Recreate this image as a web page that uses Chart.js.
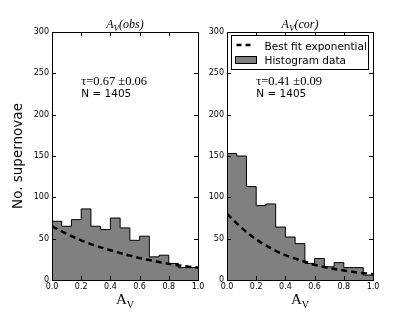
<!DOCTYPE html>
<html>
<head>
<meta charset="utf-8">
<script src="https://cdn.jsdelivr.net/npm/chart.js@4.4.1/dist/chart.umd.min.js"></script>
<style>
    html, body { margin: 0; padding: 0; background: #fff; }
    #wrap { position: relative; width: 415px; height: 312px; }
    canvas { position: absolute; left: 0; top: 0; }
</style>
</head>
<body>
<div id="wrap">
    <canvas id="obsChart" width="415" height="312"></canvas>
    <canvas id="corChart" width="415" height="312"></canvas>
</div>
<script>
// Histogram counts, 15 bins over A_V = 0..1
const obsCounts = [71, 65, 73, 86, 65, 61, 75, 63, 48, 53, 28, 30, 20, 15, 15];
const corCounts = [153, 150, 113, 90, 92, 64, 52, 44, 20, 26, 16, 21, 15, 15, 6];

// Best fit exponential
const fitX = [0, 0.1, 0.2, 0.3, 0.4, 0.5, 0.6, 0.7, 0.8, 0.9, 1.0];
const obsFit = [65, 56, 48, 41.5, 36, 31, 26.5, 23, 19.5, 17, 15];
const corFit = [80, 63, 49, 38.5, 30, 24, 18.5, 14.5, 11.5, 9, 7];

const xTicks = [0, 0.2, 0.4, 0.6, 0.8, 1.0];
const yTicks = [0, 50, 100, 150, 200, 250, 300];

const binEdges = Array.from({ length: 16 }, (_, i) => i / 15);

const HIST_GREY = '#808080';

// frame, inside ticks, titles and notes (matplotlib look)
const panelFrame = {
    id: 'panelFrame',
    afterDraw(chart, args, opts) {
        const { ctx, chartArea: a, scales: { x, y } } = chart;
        ctx.save();
        ctx.strokeStyle = '#000';
        ctx.lineWidth = 1;

        // inside tick marks on all four sides
        ctx.beginPath();
        x.ticks.forEach(t => {
            const px = Math.round(x.getPixelForValue(t.value)) + 0.5;
            ctx.moveTo(px, a.bottom); ctx.lineTo(px, a.bottom - 4);
            ctx.moveTo(px, a.top); ctx.lineTo(px, a.top + 4);
        });
        y.ticks.forEach(t => {
            const py = Math.round(y.getPixelForValue(t.value)) + 0.5;
            ctx.moveTo(a.left, py); ctx.lineTo(a.left + 4, py);
            ctx.moveTo(a.right, py); ctx.lineTo(a.right - 4, py);
        });
        ctx.stroke();
        ctx.strokeRect(Math.round(a.left) + 0.5, Math.round(a.top) + 0.5,
            Math.round(a.right - a.left), Math.round(a.bottom - a.top));

        const cx = (a.left + a.right) / 2;
        ctx.fillStyle = '#000';

        // panel title A_V(obs) / A_V(cor)
        drawSub(ctx, cx, a.top - 4, [
            { t: 'A', f: 'italic 12px "Liberation Serif"' },
            { t: 'V', f: 'italic 9px "Liberation Serif"', dy: 2.5 },
            { t: '(' + opts.tag + ')', f: 'italic 12px "Liberation Serif"' }
        ]);

        // x axis label A_V
        drawSub(ctx, cx, a.bottom + 24, [
            { t: 'A', f: '15px "Liberation Serif"' },
            { t: 'V', f: '10px "Liberation Serif"', dy: 3.5 }
        ]);

        // fit notes
        ctx.textAlign = 'left';
        ctx.textBaseline = 'alphabetic';
        const nx = x.getPixelForValue(0.2);
        ctx.font = '12.5px "Liberation Serif"';
        ctx.fillText(opts.tau, nx, y.getPixelForValue(236));
        ctx.font = '10.5px "DejaVu Sans"';
        ctx.fillText('N = 1405', nx, y.getPixelForValue(221));

        if (opts.legend) drawLegend(chart);
        ctx.restore();
    }
};

function drawSub(ctx, cx, baseY, parts) {
    let w = 0;
    parts.forEach(p => { ctx.font = p.f; p.w = ctx.measureText(p.t).width; w += p.w; });
    let px = cx - w / 2;
    ctx.textAlign = 'left';
    ctx.textBaseline = 'alphabetic';
    parts.forEach(p => {
        ctx.font = p.f;
        ctx.fillText(p.t, px, baseY + (p.dy || 0));
        px += p.w;
    });
}

function drawLegend(chart) {
    const { ctx, chartArea: a } = chart;
    const fitSet = chart.data.datasets[0];
    const histSet = chart.data.datasets[1];
    const left = Math.round(a.left) + 4.5;
    const top = Math.round(a.top) + 3.5;

    ctx.fillStyle = '#fff';
    ctx.fillRect(left, top, 137, 34);
    ctx.strokeStyle = '#000';
    ctx.lineWidth = 1;
    ctx.strokeRect(left, top, 137, 34);

    // dashed line sample
    ctx.save();
    ctx.lineWidth = 2.5;
    ctx.setLineDash([5, 4]);
    ctx.beginPath();
    ctx.moveTo(left + 5, top + 9.5);
    ctx.lineTo(left + 19, top + 9.5);
    ctx.stroke();
    ctx.restore();

    // patch sample
    ctx.fillStyle = HIST_GREY;
    ctx.fillRect(left + 4, top + 21, 21, 7);
    ctx.strokeRect(left + 4, top + 21, 21, 7);

    ctx.fillStyle = '#000';
    ctx.font = '10.5px "DejaVu Sans"';
    ctx.textAlign = 'left';
    ctx.textBaseline = 'alphabetic';
    ctx.fillText(fitSet.label, left + 33, top + 14);
    ctx.fillText(histSet.label, left + 33, top + 28);
}

function makePanel(canvasId, counts, fit, cfg) {
    const histPoints = counts.map((c, i) => ({ x: binEdges[i], y: c }));
    histPoints.push({ x: 1, y: counts[counts.length - 1] });
    const fitPoints = fitX.map((v, i) => ({ x: v, y: fit[i] }));

    const tickFont = { family: 'DejaVu Sans', size: 8 };

    return new Chart(document.getElementById(canvasId), {
        type: 'line',
        data: {
            datasets: [{
                label: 'Best fit exponential',
                data: fitPoints,
                borderColor: '#000',
                borderWidth: 2.5,
                borderDash: [6, 4],
                pointRadius: 0,
                fill: false,
                cubicInterpolationMode: 'monotone',
                order: 0
            }, {
                label: 'Histogram data',
                data: histPoints,
                stepped: 'before',
                borderColor: '#000',
                borderWidth: 1,
                backgroundColor: HIST_GREY,
                pointRadius: 0,
                fill: 'origin',
                order: 1
            }]
        },
        options: {
            responsive: false,
            animation: false,
            events: [],
            layout: { padding: cfg.padding },
            plugins: {
                legend: { display: false },
                tooltip: { enabled: false },
                panelFrame: { tag: cfg.tag, tau: cfg.tau, legend: cfg.legend }
            },
            scales: {
                x: {
                    type: 'linear',
                    min: 0,
                    max: 1,
                    afterBuildTicks: s => { s.ticks = xTicks.map(v => ({ value: v })); },
                    afterFit: s => { s.height = 32; },
                    grid: { display: false, drawTicks: false },
                    border: { display: false },
                    ticks: {
                        autoSkip: false,
                        maxRotation: 0,
                        padding: 2,
                        color: '#000',
                        font: tickFont,
                        callback: v => v.toFixed(1)
                    }
                },
                y: {
                    min: 0,
                    max: 300,
                    afterBuildTicks: s => { s.ticks = yTicks.map(v => ({ value: v })); },
                    afterFit: s => { s.width = cfg.yWidth; },
                    grid: { display: false, drawTicks: false },
                    border: { display: false },
                    ticks: { padding: 3, color: '#000', font: tickFont },
                    title: {
                        display: cfg.yTitle,
                        text: 'No. supernovae',
                        color: '#000',
                        font: { family: 'DejaVu Sans', size: 13.5 },
                        padding: { top: 10, bottom: 0 }
                    }
                }
            }
        },
        plugins: [panelFrame]
    });
}

makePanel('obsChart', obsCounts, obsFit, {
    tag: 'obs', tau: 'τ=0.67 ±0.06', legend: false, yTitle: true, yWidth: 52,
    padding: { left: 0, right: 217, top: 32, bottom: 0 }
});
makePanel('corChart', corCounts, corFit, {
    tag: 'cor', tau: 'τ=0.41 ±0.09', legend: true, yTitle: false, yWidth: 22,
    padding: { left: 205, right: 42, top: 32, bottom: 0 }
});
</script>
</body>
</html>
